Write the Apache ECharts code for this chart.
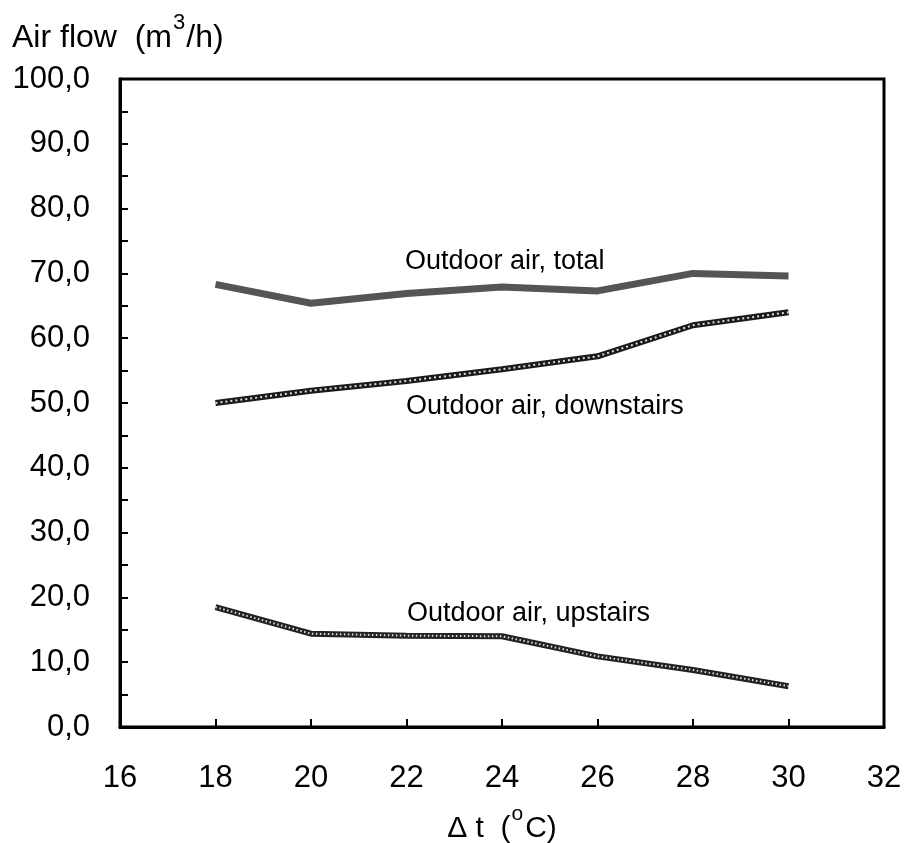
<!DOCTYPE html>
<html>
<head>
<meta charset="utf-8">
<script src="https://cdn.jsdelivr.net/npm/echarts@6/dist/echarts.min.js"></script>
<style>
  html, body { margin: 0; padding: 0; background: #fff; }
  #chart { width: 908px; height: 843px; }
</style>
</head>
<body>
<div id="chart"></div>
<script>
// data
var deltaT = [18, 20, 22, 24, 26, 28, 30];
var totalAir = [68.3, 65.4, 66.9, 67.9, 67.3, 70.0, 69.6];
var downstairsAir = [50.0, 51.9, 53.4, 55.2, 57.2, 62.0, 64.0];
var upstairsAir = [18.5, 14.4, 14.1, 14.0, 10.9, 8.8, 6.3];
var seriesNames = ['Outdoor air, total', 'Outdoor air, downstairs', 'Outdoor air, upstairs'];

function pairs(ys) {
  return deltaT.map(function (x, i) { return [x, ys[i]]; });
}

var font = 'Liberation Sans, Arial, Helvetica, sans-serif';
var myChart = echarts.init(document.getElementById('chart'));

var option = {
  backgroundColor: '#fff',
  animation: false,
  grid: {
    left: 120, right: 24, top: 79, bottom: 116,
    outerBoundsMode: 'none',
    show: true, borderColor: '#000', borderWidth: 3, backgroundColor: 'transparent'
  },
  xAxis: {
    type: 'value', min: 16, max: 32, interval: 2,
    axisLine: { show: true, lineStyle: { color: '#000', width: 3 } },
    axisTick: { show: true, inside: true, length: 8, lineStyle: { color: '#000', width: 2 } },
    splitLine: { show: false },
    axisLabel: { color: '#000', fontFamily: font, fontSize: 31, margin: 36 },
    name: '{a|Δ t  (}{sup|o}{a|C)}',
    nameLocation: 'middle',
    nameGap: 77,
    nameTextStyle: {
      rich: {
        a: { fontFamily: font, fontSize: 30, color: '#000', lineHeight: 50 },
        sup: { fontFamily: font, fontSize: 21, color: '#000', lineHeight: 21, verticalAlign: 'top', padding: [0, 2, 0, 1] }
      }
    }
  },
  yAxis: {
    type: 'value', min: 0, max: 100, interval: 10,
    axisLine: { show: true, lineStyle: { color: '#000', width: 3 } },
    axisTick: { show: true, inside: true, length: 8, lineStyle: { color: '#000', width: 2 } },
    minorTick: { show: true, splitNumber: 2, length: 8, lineStyle: { color: '#000', width: 2 } },
    splitLine: { show: false },
    axisLabel: {
      color: '#000', fontFamily: font, fontSize: 31, margin: 30,
      formatter: function (v) { return v.toFixed(1).replace('.', ','); }
    }
  },
  graphic: [
    {
      type: 'text', left: 12, top: 10,
      style: {
        text: '{a|Air flow  (m}{sup|3}{a|/h)}',
        rich: {
          a: { fontFamily: font, fontSize: 32, fill: '#000', lineHeight: 56 },
          sup: { fontFamily: font, fontSize: 22, fill: '#000', lineHeight: 22, verticalAlign: 'top', padding: [2, 1, 0, 1] }
        }
      }
    },
    { type: 'text', left: 405, top: 248, style: { text: seriesNames[0], font: '27px ' + font, fill: '#000' } },
    { type: 'text', left: 406, top: 393, style: { text: seriesNames[1], font: '27px ' + font, fill: '#000' } },
    { type: 'text', left: 407, top: 600, style: { text: seriesNames[2], font: '27px ' + font, fill: '#000' } }
  ],
  series: [
    {
      name: seriesNames[0], type: 'line', data: pairs(totalAir), symbol: 'none',
      lineStyle: { color: '#555', width: 7 }
    },
    {
      name: seriesNames[1], type: 'line', data: pairs(downstairsAir), symbol: 'none',
      lineStyle: { color: '#1a1a1a', width: 6 }
    },
    {
      name: seriesNames[1] + ' pattern', type: 'line', data: pairs(downstairsAir), symbol: 'none',
      lineStyle: { color: '#ddd', width: 2, type: [2, 3] }
    },
    {
      name: seriesNames[2], type: 'line', data: pairs(upstairsAir), symbol: 'none',
      lineStyle: { color: '#222', width: 6 }
    },
    {
      name: seriesNames[2] + ' pattern', type: 'line', data: pairs(upstairsAir), symbol: 'none',
      lineStyle: { color: '#ddd', width: 2, type: [1.5, 2.5] }
    }
  ]
};

myChart.setOption(option);
</script>
</body>
</html>
